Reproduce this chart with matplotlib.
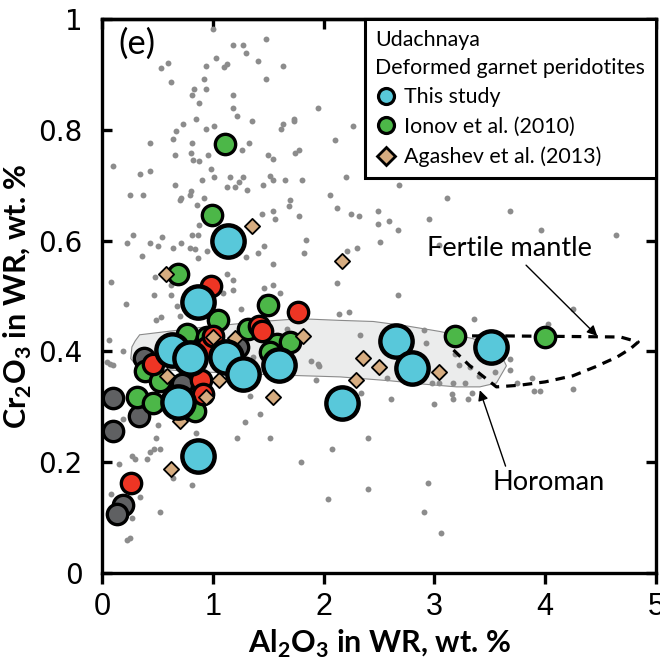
import matplotlib
matplotlib.use("Agg")
import matplotlib.pyplot as plt
from matplotlib import font_manager
from matplotlib.lines import Line2D
from matplotlib.patches import Polygon
import numpy as np

# --- fonts ---
names = {f.name for f in font_manager.fontManager.ttflist}
NARROW = 'Liberation Sans Narrow' if 'Liberation Sans Narrow' in names else 'Liberation Sans'
TEXT_FONT = 'Lato'
plt.rcParams['font.family'] = [TEXT_FONT, 'DejaVu Sans']
plt.rcParams['mathtext.fontset'] = 'custom'
plt.rcParams['mathtext.rm'] = TEXT_FONT
plt.rcParams['mathtext.bf'] = TEXT_FONT + ':bold'

CYAN = '#58c8da'
GREEN = '#4cb748'
RED = '#ee3524'
DARK = '#5f6062'
TAN = '#d6ac80'
DOT = '#8c8c8c'

# --- background compilation (small grey dots) ---
bg_al2o3 = [1.00, 1.185, 1.275, 1.48, 1.30, 1.03, 0.60, 0.53, 0.94, 1.125, 1.10, 1.405, 1.63,
            0.62, 0.92, 1.48, 0.83, 0.94, 0.81, 1.185, 0.88, 1.185, 1.95, 1.22, 0.85, 0.73,
            1.01, 0.94, 1.35, 1.63, 1.62, 1.73, 1.73, 2.27, 0.67, 0.64, 0.43, 0.81, 1.33, 2.10,
            1.26, 0.80, 0.66, 0.82, 0.88, 0.96, 1.50, 1.54, 1.74, 1.78, 0.10, 0.34, 0.43, 0.98,
            1.01, 1.16, 1.275, 1.24, 1.52, 1.54, 1.65, 1.805, 2.20, 0.90, 0.66, 1.125, 1.20,
            1.31, 1.45, 0.80, 0.25, 0.37, 0.79, 0.71, 0.70, 0.92, 0.86, 1.70, 1.69, 2.06, 2.12,
            2.25, 2.32, 1.44, 1.54, 1.56, 1.78, 0.88, 0.87, 0.81, 0.28, 0.23, 0.54, 0.43, 0.51,
            0.64, 0.71, 0.79, 0.84, 0.87, 0.945, 1.30, 1.41, 1.46, 1.54, 1.82, 1.84, 2.21, 2.30,
            0.36, 0.48, 0.62, 0.47, 0.62, 1.125, 1.185, 1.185, 1.46, 1.54, 1.61, 1.09, 0.08, 2.12,
            0.22, 0.53, 0.49, 0.70, 0.68, 1.255, 1.45, 2.14, 2.23, 0.06, 0.19, 0.045, 0.07, 0.10,
            0.32, 2.33, 1.89, 1.95, 1.96, 1.93, 1.34, 1.43, 1.29, 1.215, 1.52, 0.51, 0.19, 0.49,
            0.85, 0.52, 0.47, 0.43, 0.27, 0.30, 0.41, 0.15, 2.08, 1.80, 0.64, 0.81, 0.34, 0.08,
            0.27, 0.52, 2.04, 0.23, 0.25, 2.40, 2.40, 1.36, 1.67,
            2.67, 4.25, 3.36, 4.03, 2.91, 2.92, 3.19, 3.22, 3.32, 3.55, 3.68, 3.68, 3.17, 3.28,
            2.98, 3.04, 2.57, 2.34, 2.61, 3.00, 3.16, 3.17, 3.30, 3.34, 3.40, 3.75, 3.88, 3.90,
            3.95, 4.25, 2.94, 2.91, 3.06,
            2.68, 3.11, 2.49, 2.49, 2.59, 2.67, 2.51, 2.95, 3.04, 3.68, 3.96, 4.64]
bg_cr2o3 = [0.982, 0.953, 0.953, 0.963, 0.939, 0.929, 0.920, 0.911, 0.915, 0.919, 0.913, 0.925, 0.915,
            0.887, 0.892, 0.892, 0.873, 0.873, 0.863, 0.863, 0.848, 0.839, 0.839, 0.825, 0.820, 0.810,
            0.806, 0.801, 0.815, 0.810, 0.801, 0.819, 0.815, 0.806, 0.798, 0.783, 0.777, 0.777, 0.777, 0.782,
            0.763, 0.759, 0.754, 0.746, 0.744, 0.754, 0.754, 0.748, 0.759, 0.763, 0.734, 0.720, 0.725, 0.730,
            0.715, 0.715, 0.715, 0.705, 0.716, 0.710, 0.710, 0.710, 0.715, 0.710, 0.701, 0.696, 0.696,
            0.691, 0.701, 0.690, 0.682, 0.682, 0.682, 0.677, 0.673, 0.677, 0.665, 0.673, 0.662, 0.682, 0.658,
            0.648, 0.644, 0.648, 0.654, 0.639, 0.644, 0.628, 0.610, 0.610, 0.610, 0.595, 0.606, 0.595, 0.591,
            0.586, 0.595, 0.586, 0.585, 0.568, 0.581, 0.571, 0.577, 0.591, 0.557, 0.577, 0.601, 0.581, 0.586,
            0.572, 0.534, 0.520, 0.501, 0.501, 0.539, 0.529, 0.511, 0.515, 0.520, 0.506, 0.505, 0.526, 0.524,
            0.486, 0.462, 0.457, 0.464, 0.482, 0.476, 0.499, 0.467, 0.472, 0.420, 0.400, 0.381, 0.377, 0.376,
            0.358, 0.429, 0.382, 0.377, 0.374, 0.349, 0.320, 0.287, 0.272, 0.243, 0.243, 0.267, 0.278, 0.243,
            0.252, 0.224, 0.224, 0.218, 0.211, 0.205, 0.205, 0.196, 0.224, 0.200, 0.172, 0.158, 0.138, 0.143,
            0.100, 0.111, 0.134, 0.059, 0.063, 0.244, 0.152, 0.390, 0.441,
            0.501, 0.477, 0.458, 0.450, 0.439, 0.415, 0.396, 0.376, 0.372, 0.362, 0.387, 0.367, 0.343, 0.343,
            0.343, 0.343, 0.352, 0.325, 0.315, 0.305, 0.323, 0.315, 0.315, 0.325, 0.356, 0.343, 0.352, 0.329,
            0.329, 0.333, 0.163, 0.110, 0.072,
            0.701, 0.677, 0.653, 0.630, 0.635, 0.619, 0.597, 0.639, 0.592, 0.653, 0.619, 0.611]

# --- other Udachnaya samples (dark grey) ---
other_al2o3 = [0.10, 0.10, 0.19, 0.14, 0.33, 0.38, 0.72, 1.23]
other_cr2o3 = [0.316, 0.256, 0.123, 0.107, 0.283, 0.388, 0.341, 0.408]

# --- red circles ---
red_al2o3 = [0.98, 1.77, 1.42, 1.44, 0.26, 0.46, 0.89, 0.91, 0.95, 1.00]
red_cr2o3 = [0.518, 0.472, 0.446, 0.436, 0.163, 0.377, 0.348, 0.323, 0.408, 0.428]

# --- Ionov et al. (2010) ---
ionov_al2o3 = [1.11, 0.99, 0.69, 1.50, 1.05, 1.32, 0.77, 0.95, 1.58, 1.70, 1.52, 0.39, 0.52,
               0.32, 0.46, 0.84, 3.19, 4.00]
ionov_cr2o3 = [0.775, 0.646, 0.539, 0.483, 0.457, 0.441, 0.432, 0.426, 0.414, 0.417, 0.399, 0.365,
               0.347, 0.318, 0.307, 0.292, 0.428, 0.426]

# --- Agashev et al. (2013) ---
agashev_al2o3 = [1.35, 2.17, 0.58, 1.00, 1.20, 1.81, 0.59, 1.06, 0.94, 1.54, 0.70, 0.62, 2.36,
                 2.29, 2.50, 3.04]
agashev_cr2o3 = [0.626, 0.563, 0.539, 0.426, 0.425, 0.427, 0.356, 0.348, 0.318, 0.318, 0.274, 0.187,
                 0.388, 0.348, 0.372, 0.363]

# --- This study ---
study_al2o3 = [0.63, 0.79, 0.87, 1.14, 1.12, 1.27, 1.60, 0.69, 0.87, 2.17, 2.65, 2.80, 3.51]
study_cr2o3 = [0.403, 0.388, 0.490, 0.599, 0.390, 0.359, 0.376, 0.309, 0.212, 0.307, 0.419, 0.370, 0.408]

# --- Horoman field outline ---
horoman_al2o3 = [0.30, 0.34, 0.88, 1.43, 1.79, 2.15, 2.45, 2.75, 3.05, 3.35, 3.59, 3.65, 3.56,
                 3.41, 3.20, 2.90, 2.60, 2.15, 1.34, 0.70, 0.32, 0.26, 0.27]
horoman_cr2o3 = [0.419, 0.430, 0.443, 0.454, 0.459, 0.456, 0.454, 0.446, 0.436, 0.423, 0.399, 0.374,
                 0.343, 0.336, 0.336, 0.341, 0.347, 0.354, 0.359, 0.365, 0.372, 0.387, 0.408]

# --- Fertile mantle (dashed loop) ---
fertile_al2o3 = [3.19, 3.6, 4.2, 4.68, 4.84, 4.77, 4.65, 4.45, 4.25, 4.00, 3.77, 3.56, 3.32, 3.16, 3.19]
fertile_cr2o3 = [0.428, 0.428, 0.427, 0.426, 0.417, 0.405, 0.390, 0.372, 0.356, 0.345, 0.339, 0.336,
                 0.374, 0.405, 0.428]

fig = plt.figure(figsize=(6.6, 6.64), dpi=100)
fig.subplots_adjust(left=0.1545, right=0.9939, bottom=0.137, top=0.9714)
ax = fig.add_subplot(111)

ax.add_patch(Polygon(np.column_stack([horoman_al2o3, horoman_cr2o3]), closed=True,
                     facecolor='#ebecec', edgecolor='#8a8a8a', lw=0.8, zorder=1))
ax.scatter(bg_al2o3, bg_cr2o3, s=18, color=DOT, lw=0, zorder=2)
ax.plot(fertile_al2o3, fertile_cr2o3, color='black', lw=2.3, ls=(0, (3, 2.2)), zorder=3)

ax.scatter(other_al2o3, other_cr2o3, s=215, facecolor=DARK, edgecolor='black', lw=2.4, zorder=4)
ax.scatter(ionov_al2o3, ionov_cr2o3, s=215, facecolor=GREEN, edgecolor='black', lw=2.4, zorder=5)
ax.scatter(red_al2o3, red_cr2o3, s=215, facecolor=RED, edgecolor='black', lw=2.4, zorder=6)
ax.scatter(agashev_al2o3, agashev_cr2o3, s=60, marker='D', facecolor=TAN, edgecolor='black',
           lw=1.3, zorder=7)
ax.scatter(study_al2o3, study_cr2o3, s=540, facecolor=CYAN, edgecolor='black', lw=3.2, zorder=8)

# annotations
ax.annotate('Fertile mantle', xy=(4.47, 0.428), xytext=(3.68, 0.585), ha='center', va='center',
            fontsize=19.5, zorder=9,
            arrowprops=dict(arrowstyle='-|>', color='black', lw=1.0, mutation_scale=15,
                            shrinkA=1, shrinkB=0))
ax.annotate('Horoman', xy=(3.41, 0.330), xytext=(4.03, 0.163), ha='center', va='center',
            fontsize=19.5, zorder=9,
            arrowprops=dict(arrowstyle='-|>', color='black', lw=1.0, mutation_scale=15,
                            shrinkA=1, shrinkB=0, relpos=(0.13, 1.0)))
ax.text(0.32, 0.955, '(e)', fontsize=25, ha='center', va='center')

# legend
handles = [Line2D([], [], ls='none', marker='o', ms=11.5, mfc=CYAN, mec='black', mew=2.3),
           Line2D([], [], ls='none', marker='o', ms=11.5, mfc=GREEN, mec='black', mew=2.3),
           Line2D([], [], ls='none', marker='D', ms=9, mfc=TAN, mec='black', mew=2.0)]
labels = ['This study', 'Ionov et al. (2010)', 'Agashev et al. (2013)']
leg = ax.legend(handles, labels, title='Udachnaya\nDeformed garnet peridotites', alignment='left',
                loc='upper right', bbox_to_anchor=(1, 1), borderaxespad=0, fancybox=False,
                framealpha=1, edgecolor='black', fontsize=15.4, title_fontsize=15.4,
                handlelength=1.0, handletextpad=0.35, labelspacing=0.45, borderpad=0.5)
leg.get_title().set_linespacing(1.5)
leg.get_frame().set_linewidth(2.2)
leg.set_zorder(20)

ax.set_xlim(0, 5)
ax.set_ylim(0, 1)
ax.set_xticks([0, 1, 2, 3, 4, 5])
ax.set_yticks([0, 0.2, 0.4, 0.6, 0.8, 1])
ax.set_yticklabels(['0', '0.2', '0.4', '0.6', '0.8', '1'])
for sp in ax.spines.values():
    sp.set_linewidth(2.4)
ax.tick_params(axis='x', direction='out', length=8, width=2.4, pad=6, labelsize=22)
ax.tick_params(axis='y', direction='in', length=7, width=2.4, left=True, right=True,
               pad=14, labelsize=20)
for lbl in ax.get_xticklabels():
    lbl.set_fontfamily(NARROW)
for lbl in ax.get_yticklabels():
    lbl.set_fontfamily('DejaVu Sans')

top = ax.secondary_xaxis('top')
top.set_xticks([0, 1, 2, 3, 4, 5])
top.tick_params(direction='in', length=7, width=2.4, labeltop=False)
top.spines['top'].set_linewidth(2.4)

ax.set_xlabel(r'Al$_\mathbf{2}$O$_\mathbf{3}$ in WR, wt. %', fontsize=22, fontweight='bold', labelpad=4)
ax.set_ylabel(r'Cr$_\mathbf{2}$O$_\mathbf{3}$ in WR, wt. %', fontsize=22, fontweight='bold', labelpad=3)

fig.savefig('out.png', dpi=100)
